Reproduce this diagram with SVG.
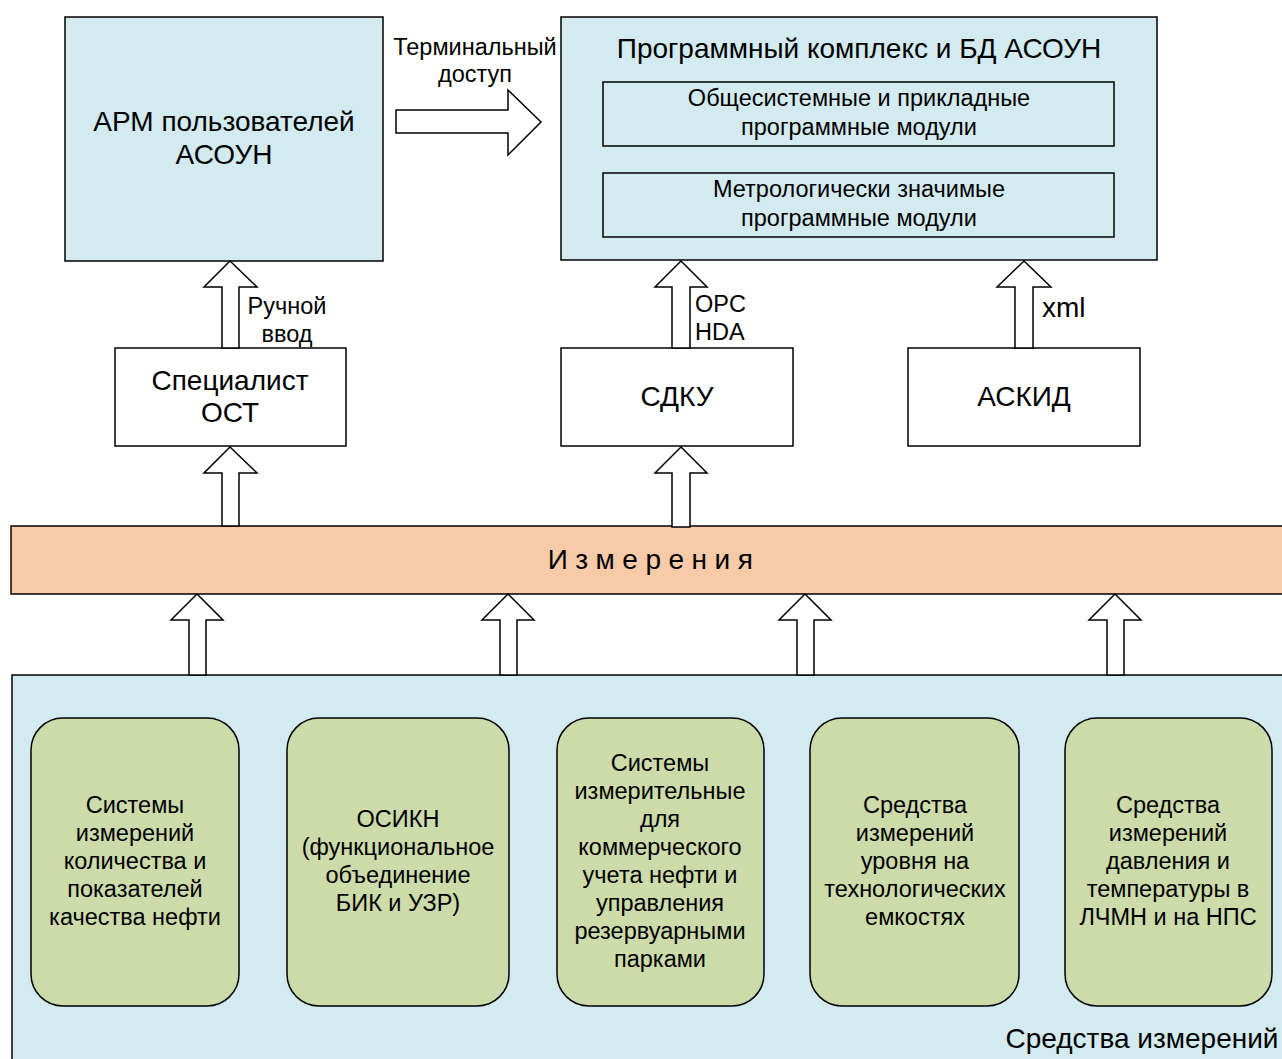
<svg xmlns="http://www.w3.org/2000/svg" width="1282" height="1059" viewBox="0 0 1282 1059">
<style>
text{font-family:"Liberation Sans",Arial,sans-serif;fill:#000;text-anchor:middle}
.blue{fill:#D3EBF0;stroke:#000;stroke-width:1.5}
.white{fill:#fff;stroke:#000;stroke-width:1.5}
.green{fill:#CCDBA9;stroke:#000;stroke-width:1.5}
.arr{fill:#fff;stroke:#000;stroke-width:1.5}
.t28{font-size:28px}.t23{font-size:23.5px}
.st{text-anchor:start}
</style>
<rect width="1282" height="1059" fill="#fff"/>
<g id="sredstva">
<rect class="blue" x="12" y="675" width="1275" height="390"/>
<text class="t28" x="1142" y="1048">Средства измерений</text>
</g>
<g id="arm">
<rect class="blue" x="65" y="17" width="318" height="244"/>
<text class="t28" x="224" y="131">АРМ пользователей</text>
<text class="t28" x="224" y="164">АСОУН</text>
</g>
<g id="pk">
<rect class="blue" x="561" y="17" width="596" height="243"/>
<text class="t28" x="859" y="58">Программный комплекс и БД АСОУН</text>
</g>
<g id="mod1">
<rect class="blue" x="603" y="82" width="511" height="64"/>
<text class="t23" x="859" y="106">Общесистемные и прикладные</text>
<text class="t23" x="859" y="135">программные модули</text>
</g>
<g id="mod2">
<rect class="blue" x="603" y="173" width="511" height="64"/>
<text class="t23" x="859" y="197">Метрологически значимые</text>
<text class="t23" x="859" y="226">программные модули</text>
</g>
<g id="spec">
<rect class="white" x="115" y="348" width="231" height="98"/>
<text class="t28" x="230" y="390">Специалист</text>
<text class="t28" x="230" y="422">ОСТ</text>
</g>
<g id="sdku">
<rect class="white" x="561" y="348" width="232" height="98"/>
<text class="t28" x="677" y="406">СДКУ</text>
</g>
<g id="askid">
<rect class="white" x="908" y="348" width="232" height="98"/>
<text class="t28" x="1024" y="406">АСКИД</text>
</g>
<g id="izm">
<rect x="11" y="526" width="1276" height="68" fill="#F8CBA8" stroke="#000" stroke-width="1.5"/>
<text class="t28" x="654" y="569" letter-spacing="7.5">Измерения</text>
</g>
<g id="g1">
<rect class="green" x="31" y="718" width="208" height="288" rx="32"/>
<text class="t23" x="135" y="813">Системы</text>
<text class="t23" x="135" y="841">измерений</text>
<text class="t23" x="135" y="869">количества и</text>
<text class="t23" x="135" y="897">показателей</text>
<text class="t23" x="135" y="925">качества нефти</text>
</g>
<g id="g2">
<rect class="green" x="287" y="718" width="222" height="288" rx="32"/>
<text class="t23" x="398" y="827">ОСИКН</text>
<text class="t23" x="398" y="855">(функциональное</text>
<text class="t23" x="398" y="883">объединение</text>
<text class="t23" x="398" y="911">БИК и УЗР)</text>
</g>
<g id="g3">
<rect class="green" x="557" y="718" width="207" height="288" rx="32"/>
<text class="t23" x="660" y="771">Системы</text>
<text class="t23" x="660" y="799">измерительные</text>
<text class="t23" x="660" y="827">для</text>
<text class="t23" x="660" y="855">коммерческого</text>
<text class="t23" x="660" y="883">учета нефти и</text>
<text class="t23" x="660" y="911">управления</text>
<text class="t23" x="660" y="939">резервуарными</text>
<text class="t23" x="660" y="967">парками</text>
</g>
<g id="g4">
<rect class="green" x="810" y="718" width="209" height="288" rx="32"/>
<text class="t23" x="915" y="813">Средства</text>
<text class="t23" x="915" y="841">измерений</text>
<text class="t23" x="915" y="869">уровня на</text>
<text class="t23" x="915" y="897">технологических</text>
<text class="t23" x="915" y="925">емкостях</text>
</g>
<g id="g5">
<rect class="green" x="1065" y="718" width="207" height="288" rx="32"/>
<text class="t23" x="1168" y="813">Средства</text>
<text class="t23" x="1168" y="841">измерений</text>
<text class="t23" x="1168" y="869">давления и</text>
<text class="t23" x="1168" y="897">температуры в</text>
<text class="t23" x="1168" y="925">ЛЧМН и на НПС</text>
</g>
<g id="connectors">
<path class="arr" d="M396,110 H508 V90 L541,122 L508,155 V133 H396 Z"/>
<path class="arr" d="M230,261 L257,287 H239 V348 H222 V287 H204 Z"/>
<path class="arr" d="M230,447 L257,473 H239 V526 H222 V473 H204 Z"/>
<path class="arr" d="M681,261 L707,287 H690 V348 H672 V287 H655 Z"/>
<path class="arr" d="M681,447 L707,473 H690 V527 H672 V473 H655 Z"/>
<path class="arr" d="M1024,261 L1051,287 H1033 V348 H1015 V287 H997 Z"/>
<path class="arr" d="M197,594 L223,620 H206 V675 H189 V620 H171 Z"/>
<path class="arr" d="M508,594 L534,620 H517 V675 H500 V620 H482 Z"/>
<path class="arr" d="M805,594 L831,620 H814 V675 H797 V620 H779 Z"/>
<path class="arr" d="M1115,594 L1141,620 H1124 V675 H1107 V620 H1089 Z"/>
<text class="t23" x="475" y="55">Терминальный</text>
<text class="t23" x="475" y="82">доступ</text>
<text class="t23" x="287" y="314">Ручной</text>
<text class="t23" x="287" y="342">ввод</text>
<text class="t23 st" x="695" y="312">OPC</text>
<text class="t23 st" x="695" y="340">HDA</text>
<text class="t28 st" x="1042" y="317">xml</text>
</g>
</svg>
